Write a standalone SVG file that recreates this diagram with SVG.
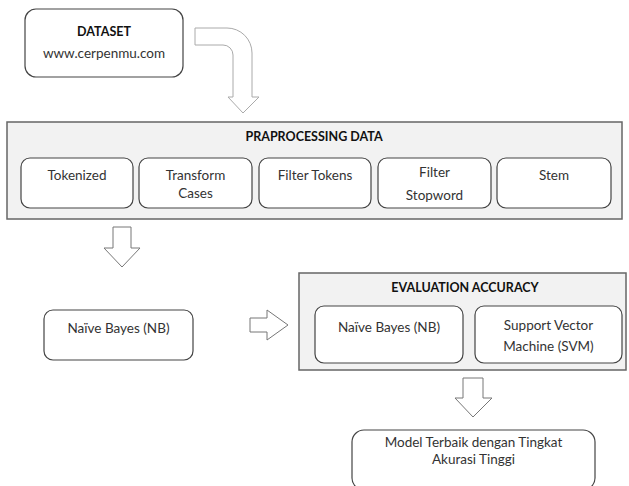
<svg xmlns="http://www.w3.org/2000/svg" width="629" height="486" viewBox="0 0 629 486">
<style>
.box{fill:#fff;stroke:#444;stroke-width:1.2}
.cont{fill:#f2f2f2;stroke:#666;stroke-width:1.5}
.t{font-family:Lato,"Liberation Sans",sans-serif;font-size:13.5px;fill:#333;text-anchor:middle}
.b{font-family:Lato,"Liberation Sans",sans-serif;font-size:12.5px;font-weight:bold;fill:#111;text-anchor:middle}
.arr{fill:#fff;stroke:#777;stroke-width:1}
.arrl{fill:#fff;stroke:#aaa;stroke-width:1}
</style>
<rect width="629" height="486" fill="#fff"/>
<g id="connectors">
<path class="arrl" d="M195,28 H227 A25,25 0 0 1 252,53 V97 H259 L243,113 L228,97 H233 V55 A10,10 0 0 0 223,45 H195 Z"/>
<path class="arr" d="M113,227 H131 V248 H140 L122,267 L104,248 H113 Z"/>
<path class="arr" d="M250,318 H267 V310 L288,325 L267,340 V332 H250 Z"/>
<path class="arr" d="M463,378 H483 V398 H492 L473,417 L455,398 H463 Z"/>
</g>
<g id="dataset">
<rect class="box" x="25" y="9" width="158" height="68" rx="11"/>
<text class="b" x="104" y="36">DATASET</text>
<text class="t" x="104" y="58">www.cerpenmu.com</text>
</g>
<g id="praprocessing">
<rect class="cont" x="7" y="122" width="615" height="97"/>
<text class="b" x="314" y="141">PRAPROCESSING DATA</text>
</g>
<g id="tokenized">
<rect class="box" x="21" y="158" width="112" height="50" rx="9"/>
<text class="t" x="77" y="180">Tokenized</text>
</g>
<g id="transform">
<rect class="box" x="139" y="158" width="113" height="50" rx="9"/>
<text class="t" x="195.5" y="180">Transform</text>
<text class="t" x="195.5" y="198">Cases</text>
</g>
<g id="filtertokens">
<rect class="box" x="259" y="158" width="112" height="50" rx="9"/>
<text class="t" x="315" y="180">Filter Tokens</text>
</g>
<g id="filterstopword">
<rect class="box" x="378" y="158" width="113" height="50" rx="9"/>
<text class="t" x="434.5" y="177">Filter</text>
<text class="t" x="434.5" y="200">Stopword</text>
</g>
<g id="stem">
<rect class="box" x="497" y="158" width="114" height="50" rx="9"/>
<text class="t" x="554" y="180">Stem</text>
</g>
<g id="nb-left">
<rect class="box" x="44" y="310" width="149" height="50" rx="9"/>
<text class="t" x="118.5" y="333">Naïve Bayes (NB)</text>
</g>
<g id="evaluation">
<rect class="cont" x="299" y="273" width="327" height="97"/>
<text class="b" x="465" y="292">EVALUATION ACCURACY</text>
</g>
<g id="nb-eval">
<rect class="box" x="315" y="306" width="148" height="57" rx="9"/>
<text class="t" x="389" y="332">Naïve Bayes (NB)</text>
</g>
<g id="svm">
<rect class="box" x="475" y="306" width="147" height="57" rx="9"/>
<text class="t" x="548.5" y="330">Support Vector</text>
<text class="t" x="548.5" y="351">Machine (SVM)</text>
</g>
<g id="model">
<rect class="box" x="352" y="430" width="243" height="60" rx="12"/>
<text class="t" x="473.5" y="447">Model Terbaik dengan Tingkat</text>
<text class="t" x="473.5" y="464">Akurasi Tinggi</text>
</g>
</svg>
